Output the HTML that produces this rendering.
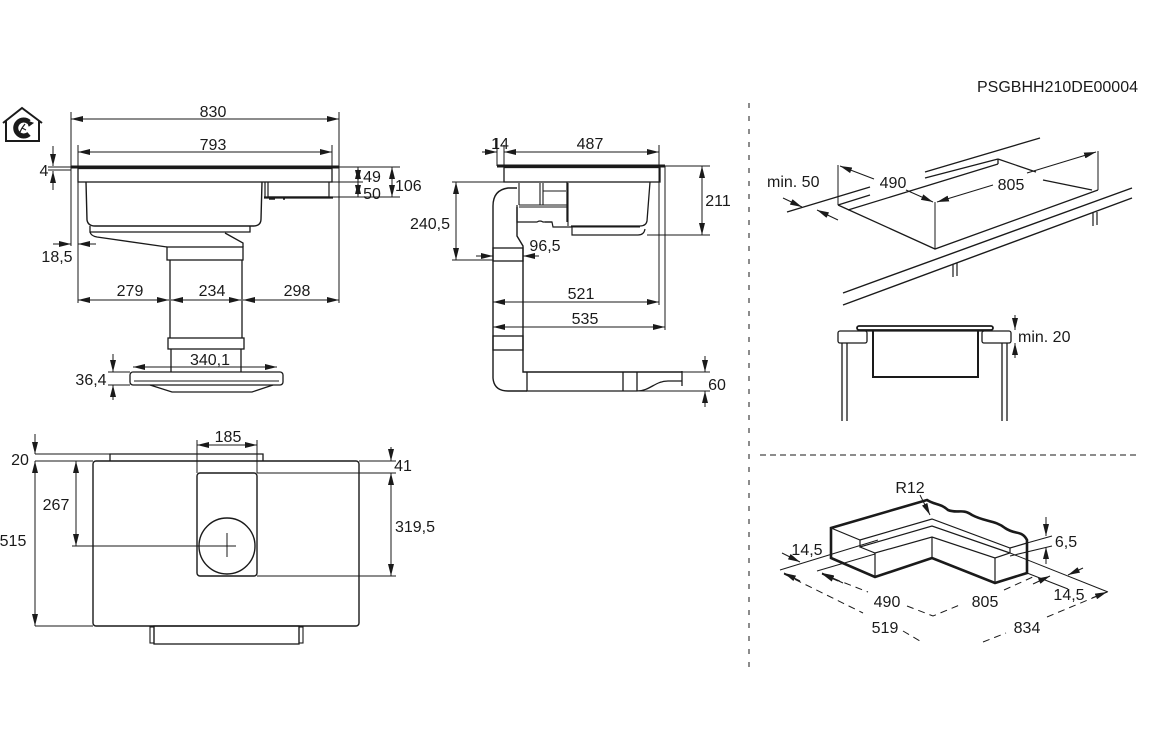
<!DOCTYPE html>
<html>
<head>
<meta charset="utf-8">
<style>
  html, body { margin:0; padding:0; background:#fff; }
  svg { display:block; }
  text { font-family: "Liberation Sans", Arial, sans-serif; font-size:16px; fill:#1a1a1a; }
</style>
</head>
<body>
<svg width="1156" height="742" viewBox="0 0 1156 742" xmlns="http://www.w3.org/2000/svg">
<defs>
  <marker id="ah" viewBox="0 0 12 6" refX="12" refY="3" markerWidth="12" markerHeight="6" markerUnits="userSpaceOnUse" orient="auto-start-reverse">
    <path d="M0,0 L12,3 L0,6 z" fill="#1a1a1a"/>
  </marker>
</defs>

<g fill="none" stroke="#1a1a1a" stroke-width="1">

<!-- ============ ICON ============ -->
<path d="M3,123 L22,108 L42,123 M6,121 L6,141 L39,141 L39,121" stroke-width="2"/>
<path d="M29,122 A8,8 0 1 0 29,134" stroke-width="5"/>
<path d="M22,128 l3,-4 M22,128 l4,2 M22,128 l-2,4" stroke-width="1.2"/>
<path d="M27,121 l6,2 l-4,3 z" fill="#1a1a1a"/>

<!-- ============ VIEW 1 : FRONT ============ -->
<!-- glass -->
<line x1="71" y1="167" x2="339" y2="167" stroke-width="3"/>
<!-- frame -->
<rect x="78" y="168.5" width="254" height="13.5" stroke-width="1.3"/>
<!-- body -->
<path d="M86,182 L87,220 Q88,226 95,226 L253,226 Q261,226 261,219 L262,182" stroke-width="1.4"/>
<!-- side box -->
<path d="M265,182 L265,197 M268,182 L268,197 L329,197 L329,182" stroke-width="1.2"/>
<line x1="264" y1="197.5" x2="333" y2="197.5" stroke-width="2.2"/>
<line x1="269" y1="199" x2="275" y2="199" stroke-width="1.5"/>
<line x1="283" y1="199" x2="285" y2="199" stroke-width="1.5"/>
<!-- plate under body -->
<path d="M90,226 L90,232 L250,232 L250,226" stroke-width="1.3"/>
<path d="M90,232 Q91,236 97,237 L167,247" stroke-width="1.3"/>
<path d="M225,233 L243,243 L243,247" stroke-width="1.3"/>
<!-- neck -->
<rect x="167" y="247" width="76" height="13" stroke-width="1.3"/>
<!-- column -->
<line x1="170" y1="260" x2="170" y2="338" stroke-width="1.3"/>
<line x1="242" y1="260" x2="242" y2="338" stroke-width="1.3"/>
<rect x="168" y="338" width="76" height="11" stroke-width="1.3"/>
<line x1="171" y1="349" x2="171" y2="372" stroke-width="1.3"/>
<line x1="241" y1="349" x2="241" y2="372" stroke-width="1.3"/>
<!-- base plate -->
<rect x="130" y="372" width="153" height="13" rx="3" stroke-width="1.3"/>
<line x1="134" y1="381" x2="279" y2="381"/>
<path d="M150,385 L172,392 L252,392 L273,385" stroke-width="1.3"/>

<!-- extension lines -->
<line x1="71" y1="112" x2="71" y2="246"/>
<line x1="339" y1="112" x2="339" y2="303"/>
<line x1="78" y1="145" x2="78" y2="303"/>
<line x1="332" y1="145" x2="332" y2="167"/>
<line x1="339" y1="167" x2="400" y2="167"/>
<line x1="329" y1="182" x2="363" y2="182"/>
<line x1="333" y1="197" x2="400" y2="197"/>
<line x1="48" y1="167" x2="71" y2="167"/>
<line x1="48" y1="170" x2="71" y2="170"/>
<line x1="108" y1="372" x2="130" y2="372"/>
<line x1="108" y1="385" x2="130" y2="385"/>

<!-- dimension lines -->
<line x1="71" y1="119" x2="339" y2="119" marker-start="url(#ah)" marker-end="url(#ah)"/>
<line x1="78" y1="152" x2="332" y2="152" marker-start="url(#ah)" marker-end="url(#ah)"/>
<line x1="78" y1="300" x2="169" y2="300" marker-start="url(#ah)" marker-end="url(#ah)"/>
<line x1="171" y1="300" x2="241" y2="300" marker-start="url(#ah)" marker-end="url(#ah)"/>
<line x1="243" y1="300" x2="339" y2="300" marker-start="url(#ah)" marker-end="url(#ah)"/>
<line x1="53" y1="244" x2="71" y2="244" marker-end="url(#ah)"/>
<line x1="96" y1="244" x2="78" y2="244" marker-end="url(#ah)"/>
<line x1="53" y1="146" x2="53" y2="166" marker-end="url(#ah)"/>
<line x1="53" y1="190" x2="53" y2="171" marker-end="url(#ah)"/>
<line x1="358" y1="167" x2="358" y2="182" marker-start="url(#ah)" marker-end="url(#ah)"/>
<line x1="358" y1="182" x2="358" y2="197" marker-start="url(#ah)" marker-end="url(#ah)"/>
<line x1="392" y1="167" x2="392" y2="197" marker-start="url(#ah)" marker-end="url(#ah)"/>
<line x1="133" y1="367" x2="277" y2="367" marker-start="url(#ah)" marker-end="url(#ah)"/>
<line x1="113" y1="354" x2="113" y2="372" marker-end="url(#ah)"/>
<line x1="113" y1="400" x2="113" y2="385" marker-end="url(#ah)"/>

<!-- ============ VIEW 2 : SIDE ============ -->
<line x1="497" y1="166" x2="665" y2="166" stroke-width="3"/>
<rect x="504" y="167.5" width="156" height="14.5" stroke-width="1.3"/>
<!-- right body -->
<path d="M567,182 L567,222 M650,182 L647,221 Q646,226 640,226 L571,226" stroke-width="1.3"/>
<path d="M545,222 L552,222 L553,227 L572,227 L572,235 L638,235 Q644,235 645,229" stroke-width="1.2"/>
<path d="M572,227 L640,227"/>
<!-- fan module -->
<path d="M519,183 L519,205 M540,183 L540,205 M543,183 L543,205 M568,183 L568,226 M519,205 L568,205 M519,207 L568,207 M543,191 L566,191" stroke-width="1.1"/>
<path d="M517,205 L517,222 L537,222 Q540,220 543,222 L552,222" stroke-width="1.2"/>
<!-- duct -->
<path d="M517,188 L508,188 Q493,190 493,206 L493,378 Q494,391 508,391 L527,391" stroke-width="1.4"/>
<path d="M517,207 L517,236 L523,246 L523,372 L682,372" stroke-width="1.4"/>
<rect x="493" y="248" width="30" height="13" stroke-width="1.3"/>
<rect x="493" y="336" width="30" height="14" stroke-width="1.3"/>
<path d="M527,372 L527,391 L637,391 M623,372 L623,391 M637,372 L637,391" stroke-width="1.3"/>
<path d="M637,391 C650,391 655,381 668,381 L682,381 M682,371 L682,386" stroke-width="1.3"/>

<!-- extension lines -->
<line x1="497" y1="138" x2="497" y2="166"/>
<line x1="504" y1="145" x2="504" y2="167"/>
<line x1="659" y1="145" x2="659" y2="305"/>
<line x1="665" y1="166" x2="665" y2="330"/>
<line x1="665" y1="166" x2="710" y2="166"/>
<line x1="647" y1="235" x2="710" y2="235"/>
<line x1="452" y1="182" x2="504" y2="182"/>
<line x1="452" y1="260" x2="493" y2="260"/>
<line x1="682" y1="372" x2="710" y2="372"/>
<line x1="637" y1="391" x2="710" y2="391"/>

<!-- dimensions -->
<line x1="482" y1="152" x2="497" y2="152" marker-end="url(#ah)"/>
<line x1="504" y1="152" x2="659" y2="152" marker-start="url(#ah)" marker-end="url(#ah)"/>
<line x1="702" y1="166" x2="702" y2="235" marker-start="url(#ah)" marker-end="url(#ah)"/>
<line x1="456" y1="182" x2="456" y2="260" marker-start="url(#ah)" marker-end="url(#ah)"/>
<line x1="476" y1="256" x2="493" y2="256" marker-end="url(#ah)"/>
<line x1="539" y1="256" x2="523" y2="256" marker-end="url(#ah)"/>
<line x1="493" y1="302" x2="659" y2="302" marker-start="url(#ah)" marker-end="url(#ah)"/>
<line x1="493" y1="327" x2="665" y2="327" marker-start="url(#ah)" marker-end="url(#ah)"/>
<line x1="705" y1="356" x2="705" y2="372" marker-end="url(#ah)"/>
<line x1="705" y1="407" x2="705" y2="391" marker-end="url(#ah)"/>

<!-- ============ VIEW 3 : PLAN ============ -->
<rect x="93" y="461" width="266" height="165" rx="3" stroke-width="1.4"/>
<path d="M110,461 L110,454 L263,454 L263,461" stroke-width="1.3"/>
<rect x="154" y="626" width="145" height="18" stroke-width="1.3"/>
<rect x="150" y="627" width="4" height="16" stroke-width="1.1"/>
<rect x="299" y="627" width="4" height="16" stroke-width="1.1"/>
<rect x="197" y="473" width="60" height="103" rx="3" stroke-width="1.4"/>
<circle cx="227" cy="546" r="28" stroke-width="1.4"/>
<line x1="227" y1="533" x2="227" y2="557"/>

<!-- ext -->
<line x1="35" y1="454" x2="110" y2="454"/>
<line x1="35" y1="461" x2="93" y2="461"/>
<line x1="35" y1="626" x2="93" y2="626"/>
<line x1="72" y1="546" x2="236" y2="546"/>
<line x1="197" y1="440" x2="197" y2="473"/>
<line x1="257" y1="440" x2="257" y2="473"/>
<line x1="359" y1="461" x2="396" y2="461"/>
<line x1="257" y1="473" x2="396" y2="473"/>
<line x1="257" y1="576" x2="396" y2="576"/>

<!-- dims -->
<line x1="35" y1="434" x2="35" y2="454" marker-end="url(#ah)"/>
<line x1="35" y1="461" x2="35" y2="626" marker-start="url(#ah)" marker-end="url(#ah)"/>
<line x1="76" y1="461" x2="76" y2="546" marker-start="url(#ah)" marker-end="url(#ah)"/>
<line x1="197" y1="445" x2="257" y2="445" marker-start="url(#ah)" marker-end="url(#ah)"/>
<line x1="391" y1="447" x2="391" y2="461" marker-end="url(#ah)"/>
<line x1="391" y1="473" x2="391" y2="576" marker-start="url(#ah)" marker-end="url(#ah)"/>

<!-- ============ DIVIDERS ============ -->
<line x1="749" y1="103" x2="749" y2="668" stroke-dasharray="5,8"/>
<line x1="760" y1="455" x2="1140" y2="455" stroke-dasharray="6,4"/>

<!-- ============ VIEW 4 : CUTOUT ISO ============ -->
<!-- back counter edge -->
<line x1="787" y1="212" x2="870" y2="187" stroke-width="1.3"/>
<line x1="925" y1="172" x2="1040" y2="138" stroke-width="1.3"/>
<!-- cutout outer back edge -->
<line x1="838" y1="205" x2="870" y2="195" stroke-width="1.3"/>
<line x1="925" y1="178" x2="998" y2="159" stroke-width="1.3"/>
<!-- inner depth line -->
<line x1="848" y1="210" x2="998" y2="164" stroke-width="1.3"/>
<line x1="998" y1="159" x2="998" y2="164" stroke-width="1.3"/>
<line x1="998" y1="159" x2="1036" y2="172" stroke-width="1.3"/>
<line x1="1043" y1="180" x2="1092" y2="190" stroke-width="1.3"/>
<!-- front cutout edges -->
<path d="M838,205 L935,249 L1098,190" stroke-width="1.3"/>
<!-- ext -->
<line x1="838" y1="165" x2="838" y2="205"/>
<line x1="935" y1="202" x2="935" y2="249"/>
<line x1="1098" y1="151" x2="1098" y2="190"/>
<!-- 490 dim -->
<line x1="874" y1="179" x2="840" y2="166" marker-end="url(#ah)"/>
<line x1="906" y1="190" x2="933" y2="202" marker-end="url(#ah)"/>
<!-- 805 dim -->
<line x1="993" y1="185" x2="937" y2="202" marker-end="url(#ah)"/>
<line x1="1027" y1="173" x2="1096" y2="152" marker-end="url(#ah)"/>
<!-- min 50 arrows -->
<line x1="783" y1="198" x2="802" y2="207" marker-end="url(#ah)"/>
<line x1="838" y1="220" x2="817" y2="210" marker-end="url(#ah)"/>
<!-- front counter edges -->
<line x1="843" y1="293" x2="1132" y2="188" stroke-width="1.4"/>
<line x1="843" y1="305" x2="1132" y2="198" stroke-width="1.4"/>
<path d="M953,264 L953,277 M957,263 L957,276 M1093,213 L1093,226 M1097,212 L1097,225" stroke-width="1.2"/>

<!-- ============ VIEW 5 : CROSS SECTION ============ -->
<rect x="857" y="326" width="136" height="4" rx="2" stroke-width="1.8"/>
<line x1="866" y1="331" x2="984" y2="331" stroke-width="1.2"/>
<rect x="838" y="331" width="29" height="12" rx="2" stroke-width="1.3"/>
<rect x="982" y="331" width="29" height="12" rx="2" stroke-width="1.3"/>
<path d="M873,331 L873,377 L978,377 L978,331" stroke-width="2"/>
<path d="M842,343 L842,421 M847,343 L847,421 M1002,343 L1002,421 M1007,343 L1007,421" stroke-width="1.3"/>
<line x1="1015" y1="315" x2="1015" y2="330" marker-end="url(#ah)"/>
<line x1="1015" y1="358" x2="1015" y2="343" marker-end="url(#ah)"/>

<!-- ============ VIEW 6 : FRAME ISO ============ -->
<path d="M831,528 L927,500 C935,505 940,503 948,510 C958,514 962,508 972,515 C985,522 995,520 1005,528 C1015,535 1022,530 1027,540 L1027,573 L995,583 L932,558 L875,577 L831,558 Z" stroke-width="2.6"/>
<path d="M831,528 L860,540 L932,519 L1010,548 L1027,543" stroke-width="1.2"/>
<path d="M860,540 L860,547 L932,526 L1010,553 M860,547 L875,553 L932,537 L995,558 L1010,553 L1010,548" stroke-width="1.2"/>
<path d="M875,553 L875,577 M932,537 L932,558 M995,558 L995,583" stroke-width="1.2"/>
<!-- R12 leader -->
<line x1="920" y1="495" x2="930" y2="515" marker-end="url(#ah)"/>
<!-- thin ext lines -->
<line x1="780" y1="570" x2="878" y2="540"/>
<line x1="817" y1="571" x2="875" y2="554"/>
<line x1="1010" y1="553" x2="1108" y2="592"/>
<line x1="1027" y1="573" x2="1068" y2="589"/>
<line x1="1027" y1="543" x2="1052" y2="536"/>
<line x1="1010" y1="556" x2="1052" y2="546"/>
<!-- 14,5 left arrows -->
<line x1="782" y1="553" x2="800" y2="562" marker-end="url(#ah)"/>
<line x1="843" y1="583" x2="822" y2="573" marker-end="url(#ah)"/>
<!-- dashed dims -->
<path d="M784,574 L863,613 M903,631 L920,641" stroke-dasharray="7,5"/>
<path d="M822,574 L868,592 M907,606 L933,616 L962,604" stroke-dasharray="7,5"/>
<path d="M1004,590 L1035,576" stroke-dasharray="7,5"/>
<path d="M983,642 L1006,633 M1047,617 L1107,592" stroke-dasharray="7,5"/>
<line x1="800" y1="581" x2="784" y2="573" marker-end="url(#ah)"/>
<line x1="838" y1="581" x2="822" y2="574" marker-end="url(#ah)"/>
<line x1="1033" y1="584" x2="1050" y2="576" marker-end="url(#ah)"/>
<line x1="1092" y1="598" x2="1107" y2="592" marker-end="url(#ah)"/>
<line x1="1083" y1="568" x2="1068" y2="575" marker-end="url(#ah)"/>
<!-- 6,5 arrows -->
<line x1="1046" y1="517" x2="1046" y2="536" marker-end="url(#ah)"/>
<line x1="1046" y1="564" x2="1046" y2="547" marker-end="url(#ah)"/>
</g>

<!-- ============ TEXT ============ -->
<g>
<text x="977" y="92">PSGBHH210DE00004</text>

<text x="213" y="117" text-anchor="middle">830</text>
<text x="213" y="150" text-anchor="middle">793</text>
<text x="44" y="176" text-anchor="middle">4</text>
<text x="57" y="262" text-anchor="middle">18,5</text>
<text x="130" y="296" text-anchor="middle">279</text>
<text x="212" y="296" text-anchor="middle">234</text>
<text x="297" y="296" text-anchor="middle">298</text>
<text x="372" y="182" text-anchor="middle">49</text>
<text x="372" y="199" text-anchor="middle">50</text>
<text x="395" y="191">106</text>
<text x="210" y="365" text-anchor="middle">340,1</text>
<text x="91" y="385" text-anchor="middle">36,4</text>

<text x="500" y="149" text-anchor="middle">14</text>
<text x="590" y="149" text-anchor="middle">487</text>
<text x="430" y="229" text-anchor="middle">240,5</text>
<text x="545" y="251" text-anchor="middle">96,5</text>
<text x="718" y="206" text-anchor="middle">211</text>
<text x="581" y="299" text-anchor="middle">521</text>
<text x="585" y="324" text-anchor="middle">535</text>
<text x="717" y="390" text-anchor="middle">60</text>

<text x="20" y="465" text-anchor="middle">20</text>
<text x="228" y="442" text-anchor="middle">185</text>
<text x="403" y="471" text-anchor="middle">41</text>
<text x="56" y="510" text-anchor="middle">267</text>
<text x="13" y="546" text-anchor="middle">515</text>
<text x="415" y="532" text-anchor="middle">319,5</text>

<text x="767" y="187">min. 50</text>
<text x="893" y="188" text-anchor="middle">490</text>
<text x="1011" y="190" text-anchor="middle">805</text>
<text x="1018" y="342">min. 20</text>

<text x="910" y="493" text-anchor="middle">R12</text>
<text x="807" y="555" text-anchor="middle">14,5</text>
<text x="1066" y="547" text-anchor="middle">6,5</text>
<text x="887" y="607" text-anchor="middle">490</text>
<text x="985" y="607" text-anchor="middle">805</text>
<text x="1069" y="600" text-anchor="middle">14,5</text>
<text x="885" y="633" text-anchor="middle">519</text>
<text x="1027" y="633" text-anchor="middle">834</text>
</g>
</svg>
</body>
</html>
